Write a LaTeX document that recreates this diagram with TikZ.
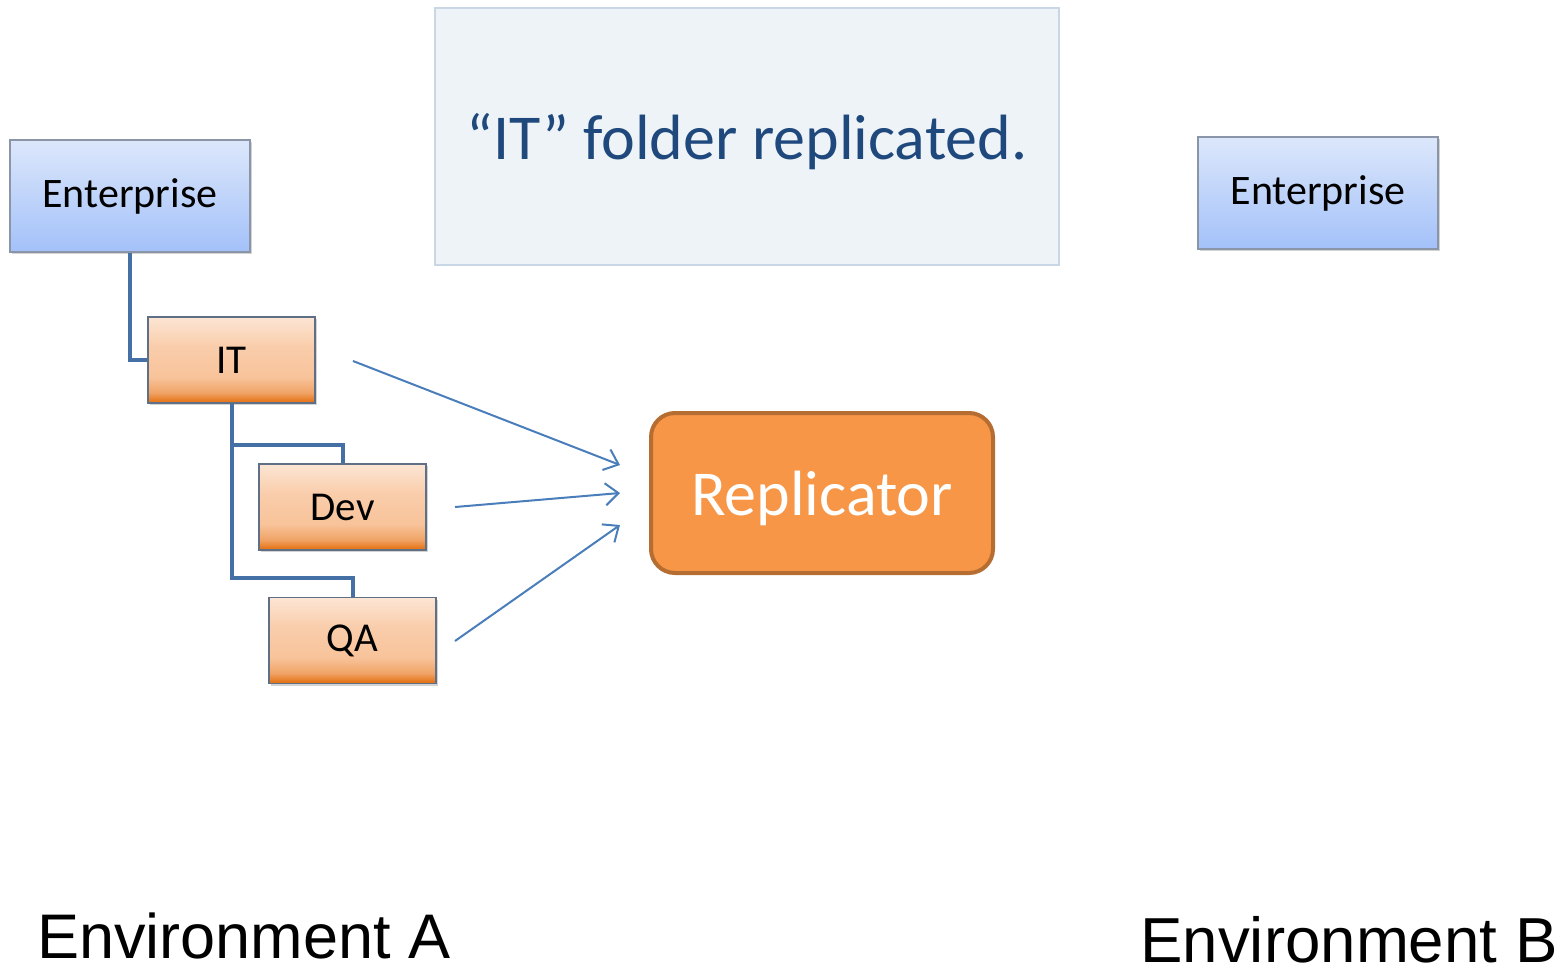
\documentclass[tikz,border=0pt]{standalone}
\usepackage{fontspec}
\setmainfont{Carlito}
\newfontfamily\arialf{Liberation Sans}
\usetikzlibrary{shadows,arrows.meta}
\definecolor{treeblue}{HTML}{4470A6}
\definecolor{arrowblue}{HTML}{4A7EBB}
\definecolor{titlefill}{HTML}{EEF3F8}
\definecolor{titleborder}{HTML}{C9D6E6}
\definecolor{titletext}{HTML}{1F497D}
\definecolor{repfill}{HTML}{F79646}
\definecolor{repborder}{HTML}{B66D31}
\definecolor{entborder}{HTML}{8A96A8}
\definecolor{orgborder}{HTML}{5F6F86}
\definecolor{bluetop}{HTML}{DCE7FB}
\definecolor{bluebot}{HTML}{A3C1F9}
\definecolor{orgtop}{HTML}{FCE5D4}
\definecolor{orgmid}{HTML}{F8C39A}
\definecolor{orglow}{HTML}{F0A366}
\definecolor{orgbot}{HTML}{E36C0A}
\pgfdeclareverticalshading{orgshade}{100bp}{color(0bp)=(orgbot); color(25bp)=(orgbot); color(31bp)=(orglow); color(40bp)=(orgmid); color(58bp)=(orgmid!70!orgtop); color(75bp)=(orgtop); color(100bp)=(orgtop)}
\tikzset{
  entbox/.style={draw=entborder, line width=0.75pt, top color=bluetop, bottom color=bluebot,
    minimum width=120pt, minimum height=56pt, inner sep=0pt,
    font=\fontsize{21}{25}\selectfont,
    drop shadow={shadow xshift=1.2pt, shadow yshift=-1.2pt, opacity=0.35}},
  orgbox/.style={draw=orgborder, line width=0.75pt, shading=orgshade,
    minimum width=83.5pt, minimum height=43pt, inner sep=0pt,
    font=\fontsize{20.5}{24}\selectfont,
    drop shadow={shadow xshift=1.2pt, shadow yshift=-1.2pt, opacity=0.35}},
  treeline/.style={draw=treeblue, line width=2pt},
  flow/.style={draw=arrowblue, line width=1pt, -{Straight Barb[length=6.5pt,width=11pt]}},
  envlabel/.style={anchor=base west, inner sep=0pt, text depth=0pt},
}
\begin{document}
\begin{tikzpicture}[x=0.5pt,y=-0.5pt]
\useasboundingbox (0,0) rectangle (1558,964);
% title box
\node[draw=titleborder, fill=titlefill, line width=0.8pt, minimum width=312pt, minimum height=128.5pt,
  inner sep=0pt, text depth=0pt, text=titletext, font=\fontsize{32}{38}\selectfont] (title) at (747,136.5) {“IT” folder replicated.};
% tree nodes
\node[entbox] (entA) at (130,196) {Enterprise};
\node[orgbox] (it) at (231.5,360) {IT};
\node[orgbox] (dev) at (342.5,507) {Dev};
\node[orgbox] (qa) at (352.5,640.5) {QA};
\node[entbox] (entB) at (1318,193) {Enterprise};
% replicator
\node[draw=repborder, fill=repfill, line width=2pt, rounded corners=12pt, minimum width=171pt,
  minimum height=80pt, inner sep=0pt, text depth=0pt, text=white, font=\fontsize{32}{38}\selectfont] (rep) at (822,493) {Replicator};
% tree connectors
\draw[treeline] (entA.south) |- (it.west);
\draw[treeline] (it.south) |- (342.5,445) -- (dev.north);
\draw[treeline] (it.south) |- (352.5,578) -- (qa.north);
% arrows
\coordinate (a1s) at (353,361);
\coordinate (a1e) at (620,465);
\coordinate (a2s) at (455,507);
\coordinate (a2e) at (620,493);
\coordinate (a3s) at (455,641);
\coordinate (a3e) at (620,525);
\draw[flow] (a1s) -- (a1e);
\draw[flow] (a2s) -- (a2e);
\draw[flow] (a3s) -- (a3e);
% environment labels
\node[envlabel, font=\arialf\fontsize{31.5}{36}\selectfont] (envA) at (37,958) {Environment A};
\node[envlabel, font=\arialf\fontsize{31.8}{36}\selectfont] (envB) at (1140,962) {Environment B};
\end{tikzpicture}
\end{document}
